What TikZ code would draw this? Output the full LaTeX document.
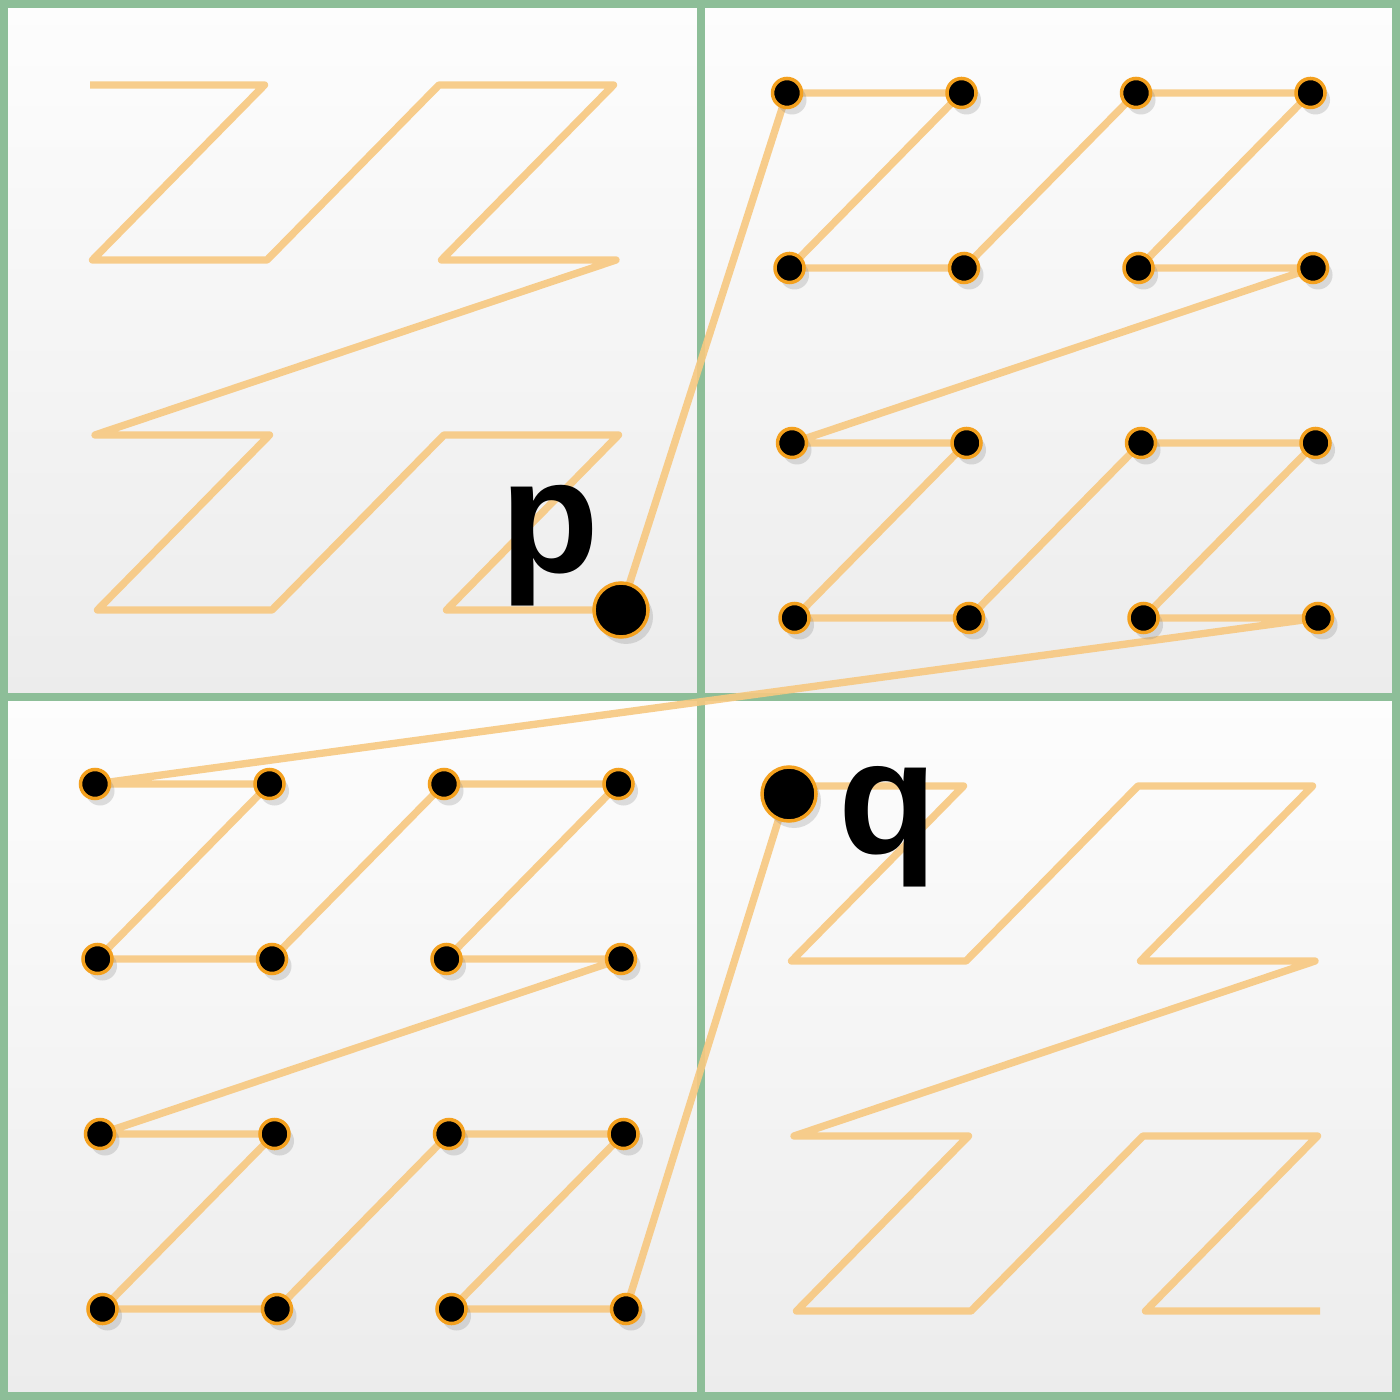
\documentclass[tikz,border=0pt]{standalone}
\usepackage{fontspec}
\setmainfont{Liberation Sans}
\usetikzlibrary{calc, shadows}
\definecolor{ZGreen}{RGB}{141, 190, 152}
\definecolor{ZOrange}{RGB}{247, 200, 128}
\definecolor{ZRing}{RGB}{243, 160, 30}
\definecolor{ZPanelTop}{RGB}{253, 253, 253}
\definecolor{ZPanelBot}{RGB}{236, 236, 236}

\tikzset{
  panel/.style={draw=ZGreen, line width=2.3pt, top color=ZPanelTop, bottom color=ZPanelBot},
  curve/.style={draw=ZOrange, draw opacity=0.9, line width=2.1pt, line join=round},
  dot/.style={circle, fill=black, draw=ZRing, line width=1pt, inner sep=0pt, minimum size=2.9mm,
    drop shadow={opacity=0.25, shadow xshift=0.5mm, shadow yshift=-0.7mm}},
  bigdot/.style={dot, minimum size=5.4mm},
  lbl/.style={inner sep=0pt, font=\fontsize{46}{48}\selectfont\bfseries}
}

\begin{document}
\begin{tikzpicture}[x=0.1mm,y=-0.1mm]
  \path[use as bounding box] (0,0) rectangle (1399,1400);
  % four quadrants
  \path[panel] (4,4) rectangle (701,697);
  \path[panel] (701,4) rectangle (1396,697);
  \path[panel] (4,697) rectangle (701,1396);
  \path[panel] (701,697) rectangle (1396,1396);
  % z-order points, 16 per quadrant
  \foreach \qd/\ox/\oy in {0/90/85, 1/787/93, 2/95/784, 3/789/786}{
    \foreach \i in {0,...,15}{
      \pgfmathtruncatemacro\col{mod(\i,2)+2*mod(floor(\i/4),2)}
      \pgfmathtruncatemacro\row{mod(floor(\i/2),2)+2*floor(\i/8)}
      \pgfmathtruncatemacro\k{16*\qd+\i}
      \coordinate (z\k) at ({\ox+174.5*\col+2.5*\row},{\oy+175*\row});
    }
  }
  \draw[curve] (z0) \foreach \k in {1,...,63}{ -- (z\k)};
  \foreach \k in {16,...,47}{
    \node[dot] (d\k) at (z\k) {};
  }
  \node[bigdot] (p) at (z15) {};
  \node[bigdot] (q) at ($(z48)+(0,8)$) {};
  \node[lbl, anchor=base west] (plbl) at (500,573) {p};
  \node[lbl, anchor=base west] (qlbl) at (838,853) {q};
\end{tikzpicture}
\end{document}
